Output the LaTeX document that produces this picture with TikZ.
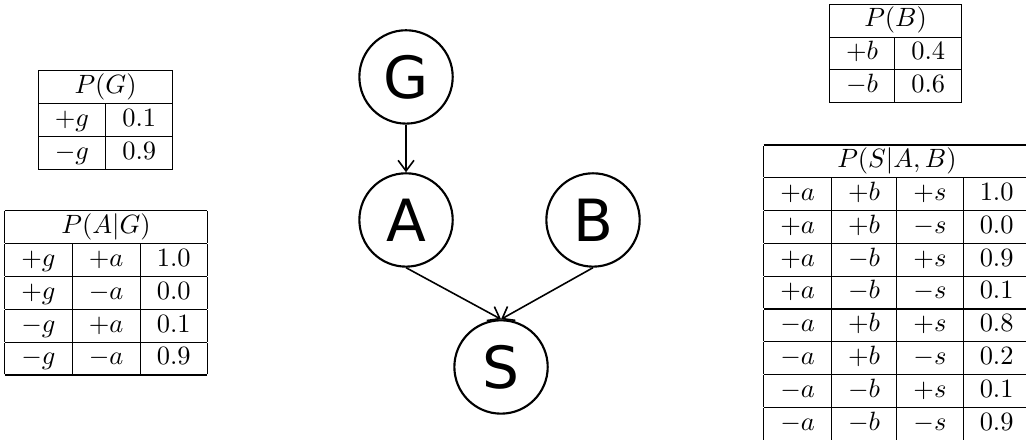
\documentclass[tikz,border=0pt]{standalone}
\usepackage{fontspec}
\usetikzlibrary{arrows.meta}
\newfontfamily\nodefont{DejaVu Sans}
\setlength{\tabcolsep}{6.3pt}
\begin{document}
\begin{tikzpicture}[
    var/.style={circle,draw,thick,minimum size=1.24cm,inner sep=0pt,font=\nodefont\fontsize{22}{26}\selectfont},
    cpt/.style={inner sep=0pt},
    edge/.style={-{Straight Barb[length=4pt,width=6pt]},semithick}]
      \useasboundingbox (0,0) rectangle (13.63,5.845);
      \node[var] (G) at (5.394,4.823) {G}; %ノード
      \node[var] (A) at (5.394,2.923) {A};
      \node[var] (B) at (7.878,2.923) {B};
      \node[var] (S) at (6.656,0.970) {S};
      \draw[edge] (G.south)--(A.north); %矢印
      \draw[edge] (A.south)--(S.north);
      \draw[edge] (B.south)--(S.north);
      \node[cpt] (PG) at (1.402,4.251) {\begin{tabular}{|c|c|}\hline
        \multicolumn{2}{|c|}{$P(G)$}\\\hline
        $+g$ & $0.1$\\\hline
        $-g$ & $0.9$\\\hline
      \end{tabular}}; %確率表
      \node[cpt] (PAG) at (1.408,1.953) {\begin{tabular}{|c|c|c|}\hline
        \multicolumn{3}{|c|}{$P(A|G)$}\\\hline
        $+g$ & $+a$ & $1.0$\\\hline
        $+g$ & $-a$ & $0.0$\\\hline
        $-g$ & $+a$ & $0.1$\\\hline
        $-g$ & $-a$ & $0.9$\\\hline
      \end{tabular}};
      \node[cpt] (PB) at (11.897,5.135) {\begin{tabular}{|c|c|}\hline
        \multicolumn{2}{|c|}{$P(B)$}\\\hline
        $+b$ & $0.4$\\\hline
        $-b$ & $0.6$\\\hline
      \end{tabular}};
      \node[cpt,anchor=north west] (PSAB) at (10.137,3.933) {\begin{tabular}{|c|c|c|c|}\hline
        \multicolumn{4}{|c|}{$P(S|A,B)$}\\\hline
        $+a$ & $+b$ & $+s$ & $1.0$\\\hline
        $+a$ & $+b$ & $-s$ & $0.0$\\\hline
        $+a$ & $-b$ & $+s$ & $0.9$\\\hline
        $+a$ & $-b$ & $-s$ & $0.1$\\\hline
        $-a$ & $+b$ & $+s$ & $0.8$\\\hline
        $-a$ & $+b$ & $-s$ & $0.2$\\\hline
        $-a$ & $-b$ & $+s$ & $0.1$\\\hline
        $-a$ & $-b$ & $-s$ & $0.9$\\\hline
      \end{tabular}};
\end{tikzpicture}
\end{document}
